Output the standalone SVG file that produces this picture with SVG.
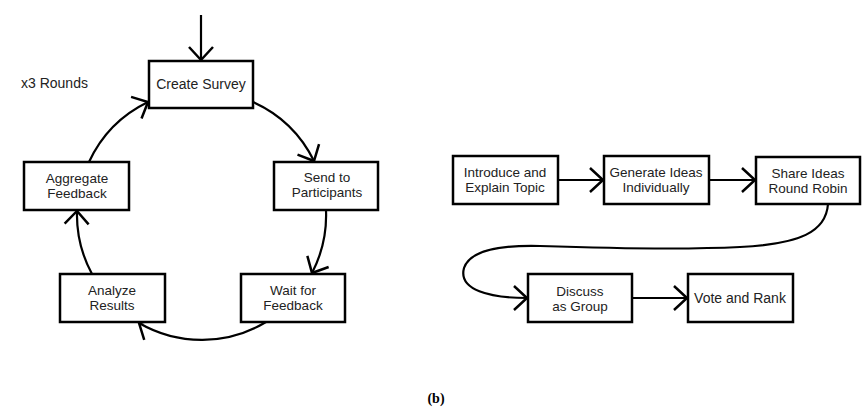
<svg xmlns="http://www.w3.org/2000/svg" width="862" height="414" viewBox="0 0 862 414">
<defs>
<marker id="v" markerUnits="userSpaceOnUse" markerWidth="34" markerHeight="34" viewBox="-17 -17 34 34" refX="0" refY="0" orient="auto">
<path d="M-13,-12 L0,0 L-13,12" fill="none" stroke="#000" stroke-width="2.5" stroke-linejoin="miter"/>
</marker>
<style>
.box{fill:#fff;stroke:#000;stroke-width:2.5}
.t{font-family:"Liberation Sans",Arial,sans-serif;font-size:13.5px;fill:#222;text-anchor:middle}
.c{fill:none;stroke:#000;stroke-width:2.2;marker-end:url(#v)}
</style>
</defs>
<rect width="862" height="414" fill="#fff"/>
<g id="connectors">
<path class="c" d="M201,15 L201,60"/>
<path class="c" d="M89,162 A125,125 0 0 1 148,102"/>
<path class="c" d="M253,102 A125,125 0 0 1 314,161"/>
<path class="c" d="M326,210 A125,125 0 0 1 312,273"/>
<path class="c" d="M266,322 A125,125 0 0 1 139,323"/>
<path class="c" d="M92,274 A125,125 0 0 1 77,211"/>
<path class="c" d="M558,180 L603,180"/>
<path class="c" d="M709,180 L755,180"/>
<path class="c" d="M828,204 C826,232 800,244 740,247 C680,250 600,248 540,246 C500,245 470,250 464,268 C458,290 490,298 527,298"/>
<path class="c" d="M632,298 L687,298"/>
</g>
<text x="21" y="88" class="t" style="text-anchor:start;font-size:14px">x3 Rounds</text>
<g id="create-survey"><rect class="box" x="149" y="61" width="104" height="47"/><text class="t" x="201" y="89" style="font-size:14px">Create Survey</text></g>
<g id="aggregate-feedback"><rect class="box" x="24" y="162" width="105" height="48"/><text class="t" x="77" y="183">Aggregate</text><text class="t" x="77" y="198">Feedback</text></g>
<g id="send-to-participants"><rect class="box" x="274" y="162" width="104" height="48"/><text class="t" x="327" y="182">Send to</text><text class="t" x="327" y="197">Participants</text></g>
<g id="analyze-results"><rect class="box" x="60" y="274" width="105" height="48"/><text class="t" x="112" y="295">Analyze</text><text class="t" x="112" y="310">Results</text></g>
<g id="wait-for-feedback"><rect class="box" x="241" y="274" width="104" height="48"/><text class="t" x="293" y="295">Wait for</text><text class="t" x="293" y="310">Feedback</text></g>
<g id="introduce"><rect class="box" x="453" y="156" width="105" height="48"/><text class="t" x="505" y="177">Introduce and</text><text class="t" x="505" y="192">Explain Topic</text></g>
<g id="generate"><rect class="box" x="604" y="156" width="105" height="48"/><text class="t" x="656" y="177">Generate Ideas</text><text class="t" x="656" y="192">Individually</text></g>
<g id="share"><rect class="box" x="756" y="157" width="104" height="47"/><text class="t" x="808" y="178">Share Ideas</text><text class="t" x="808" y="193">Round Robin</text></g>
<g id="discuss"><rect class="box" x="528" y="274" width="104" height="48"/><text class="t" x="580" y="296">Discuss</text><text class="t" x="580" y="311">as Group</text></g>
<g id="vote"><rect class="box" x="688" y="274" width="105" height="48"/><text class="t" x="740" y="303" style="font-size:14px">Vote and Rank</text></g>
<text x="436" y="403" style="font-family:'Liberation Serif',serif;font-weight:bold;font-size:14px;text-anchor:middle;fill:#000">(b)</text>
</svg>
